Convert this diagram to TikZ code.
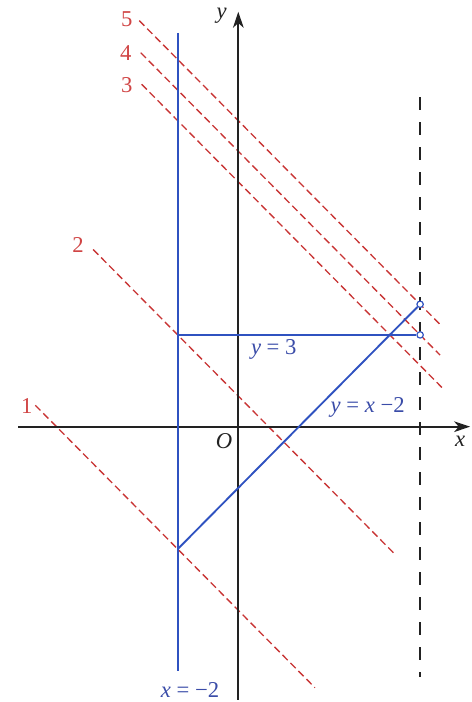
\documentclass[tikz,border=0pt]{standalone}
\usepackage{fontspec}
\setmainfont{Liberation Serif}
\usetikzlibrary{arrows.meta}
\definecolor{bl}{HTML}{2F52C0}
\definecolor{bltxt}{HTML}{3A4CA8}
\definecolor{rd}{HTML}{C83434}
\definecolor{rdtxt}{HTML}{D04545}
\definecolor{ax}{HTML}{222222}
\begin{document}
\begin{tikzpicture}[x=22.725pt,y=22.95pt,
  axisline/.style={draw=ax,line width=1.4pt,-{Stealth[length=12pt,width=8pt,inset=3.5pt]}},
  blueline/.style={draw=bl,line width=1.4pt},
  levelline/.style={draw=rd,line width=1pt,dash pattern=on 5.5pt off 3pt},
  boundline/.style={draw=ax,line width=1.2pt,dash pattern=on 9.75pt off 9pt},
  opendot/.style={circle,draw=bl,fill=white,line width=0.9pt,inner sep=0pt,minimum size=4.8pt},
  lbl/.style={font=\fontsize{17}{19}\selectfont,inner sep=0pt},
  redlbl/.style={lbl,text=rdtxt},
  bluelbl/.style={lbl,text=bltxt},
  blacklbl/.style={lbl,text=ax}]
\useasboundingbox (-7.865,-8.997) rectangle (7.680,13.944);

% level lines x+y = c
\coordinate (l1s) at (-6.70,0.70);  \coordinate (l1e) at (2.53,-8.53);
\coordinate (l2s) at (-4.79,5.79);  \coordinate (l2e) at (5.12,-4.12);
\coordinate (l3s) at (-3.19,11.19); \coordinate (l3e) at (6.75,1.25);
\coordinate (l4s) at (-3.22,12.22); \coordinate (l4e) at (6.66,2.34);
\coordinate (l5s) at (-3.27,13.27); \coordinate (l5e) at (6.66,3.34);
\draw[levelline] (l1s) -- (l1e);
\draw[levelline] (l2s) -- (l2e);
\draw[levelline] (l3s) -- (l3e);
\draw[levelline] (l4s) -- (l4e);
\draw[levelline] (l5s) -- (l5e);

% boundary x = 6
\coordinate (vt) at (6,10.76);
\coordinate (vb) at (6,-8.17);
\draw[boundline] (vt) -- (vb);

% axes
\coordinate (xs) at (-7.26,0);
\coordinate (xe) at (7.65,0);
\coordinate (ys) at (0,-8.93);
\coordinate (ye) at (0,13.56);
\draw[axisline] (xs) -- (xe);
\draw[axisline] (ys) -- (ye);

% constraint lines
\coordinate (ct) at (-2,12.87);
\coordinate (cb) at (-2,-8.0);
\coordinate (A) at (-2,3);
\coordinate (B) at (-2,-4);
\draw[blueline] (ct) -- (cb);
\node[opendot] (P) at (6,3) {};
\node[opendot] (Q) at (6,4) {};
\draw[blueline] (A) -- (P);
\draw[blueline] (B) -- (Q);

% labels
\node[redlbl] (n5) at (-3.68,13.31) {5};
\node[redlbl] (n4) at (-3.71,12.22) {4};
\node[redlbl] (n3) at (-3.68,11.17) {3};
\node[redlbl] (n2) at (-5.29,5.94) {2};
\node[redlbl] (n1) at (-6.98,0.68) {1};
\node[blacklbl] (ylab) at (-0.55,13.44) {\itshape y};
\node[blacklbl] (xlab) at (7.32,-0.49) {\itshape x};
\node[blacklbl] (olab) at (-0.47,-0.46) {\itshape O};
\node[bluelbl] (eq1) at (1.17,2.51) {\itshape y\upshape\ = 3};
\node[bluelbl] (eq2) at (4.27,0.62) {\itshape y\upshape\ = \itshape x\upshape\ −2};
\node[bluelbl] (eq3) at (-1.59,-8.6) {\itshape x\upshape\ = −2};
\end{tikzpicture}
\end{document}
